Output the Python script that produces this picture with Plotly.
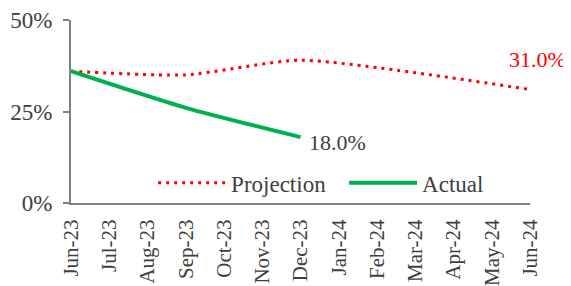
import plotly.graph_objects as go

months = ["Jun-23", "Jul-23", "Aug-23", "Sep-23", "Oct-23", "Nov-23", "Dec-23",
          "Jan-24", "Feb-24", "Mar-24", "Apr-24", "May-24", "Jun-24"]
projection = [36, None, None, 35, None, None, 39, None, None, None, None, None, 31]
actual = [36, None, None, 26, None, None, 18, None, None, None, None, None, None]
ytick_vals = [0, 25, 50]
ytick_text = ["0%", "25%", "50%"]

FONT = "Liberation Serif"
xs = list(range(len(months)))

fig = go.Figure()
fig.add_trace(go.Scatter(
    x=xs, y=projection, name="Projection", mode="lines", connectgaps=True,
    line=dict(color="#FF0000", width=3, dash="3px,5px", shape="spline", smoothing=0.6),
))
fig.add_trace(go.Scatter(
    x=xs, y=actual, name="Actual", mode="lines", connectgaps=True,
    line=dict(color="#00B050", width=4, shape="spline", smoothing=0.6),
))

fig.add_annotation(x=12, y=projection[12], text="31.0%", showarrow=False,
                   xref="x", yref="y", xanchor="center", yanchor="middle",
                   xshift=7, yshift=30, font=dict(family=FONT, size=22, color="#FF0000"))
fig.add_annotation(x=6, y=actual[6], text="18.0%", showarrow=False,
                   xref="x", yref="y", xanchor="left", yanchor="middle",
                   xshift=6, yshift=-5, font=dict(family=FONT, size=22, color="#404040"))

fig.update_layout(
    width=571, height=286,
    margin=dict(l=63, r=49, t=12, b=91, autoexpand=False),
    paper_bgcolor="white", plot_bgcolor="white",
    font=dict(family=FONT, size=21, color="#404040"),
    showlegend=True,
    legend=dict(orientation="h", x=0.595, xanchor="center", y=0.11, yanchor="middle",
                bgcolor="rgba(0,0,0,0)", font=dict(family=FONT, size=23, color="#404040"),
                itemwidth=68, entrywidth=108),
    xaxis=dict(
        range=[0, 12], tickmode="array", tickvals=xs, ticktext=months,
        tickangle=-90, showgrid=False, zeroline=False, automargin=False,
        showline=True, linecolor="#808080", linewidth=2, ticks="",
        ticklabelstandoff=6, ticklabeloverflow="allow",
        tickfont=dict(family=FONT, size=21, color="#404040"),
    ),
    yaxis=dict(
        range=[0, 50], tickmode="array", tickvals=ytick_vals, ticktext=ytick_text,
        showgrid=False, zeroline=False, showline=True, linecolor="#808080", linewidth=2,
        ticks="outside", ticklen=6, tickcolor="#808080", tickwidth=2, automargin=False,
        ticklabelstandoff=6, ticklabeloverflow="allow",
        tickfont=dict(family=FONT, size=23, color="#404040"),
    ),
)

fig.write_html("out.html")
